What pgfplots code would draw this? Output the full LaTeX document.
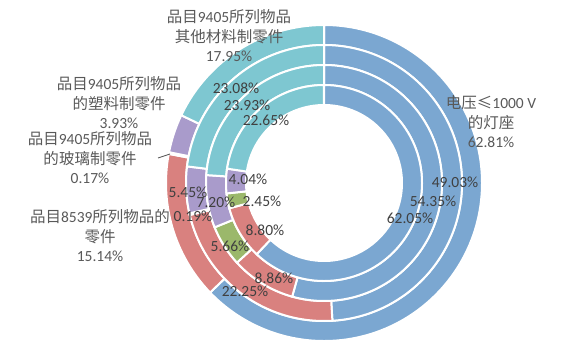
\documentclass[border=0pt]{standalone}
\usepackage{pgfplots}
\usepackage{pgfplotstable}
\pgfplotsset{compat=1.18}
\usepackage{fontspec}
\setmainfont{Carlito}
\newfontfamily\cjk{Noto Sans CJK SC}
\definecolor{cblue}{HTML}{7BA7D1}
\definecolor{cred}{HTML}{D9817F}
\definecolor{cgreen}{HTML}{9BB86B}
\definecolor{cpurple}{HTML}{A99BCB}
\definecolor{cteal}{HTML}{7EC7D1}
\definecolor{ctext}{HTML}{404040}
\definecolor{clabel}{HTML}{595959}

\pgfplotstableread{
name   r1    r2    r3    r4
blue   62.81 49.03 54.35 62.05
red    15.14 22.25 8.86  8.80
green  0.17  0.19  5.66  2.45
purple 3.93  5.45  7.20  4.04
teal   17.95 23.08 23.93 22.65
}\donutdata

\newcommand\drawring[3]{%
  \def\cum{0}%
  \pgfplotsforeachungrouped \i in {0,...,4}{%
    \pgfplotstablegetelem{\i}{#1}\of\donutdata
    \let\val\pgfplotsretval
    \pgfplotstablegetelem{\i}{name}\of\donutdata
    \let\col\pgfplotsretval
    \pgfmathsetmacro\sa{90-3.6*\cum}%
    \pgfmathsetmacro\cum{\cum+\val}%
    \pgfmathsetmacro\ea{90-3.6*\cum}%
    \pgfmathsetmacro\xO{#3*cos(\sa)}%
    \pgfmathsetmacro\yO{#3*sin(\sa)}%
    \pgfmathsetmacro\xI{#2*cos(\ea)}%
    \pgfmathsetmacro\yI{#2*sin(\ea)}%
    \edef\temp{\noexpand\fill[fill=c\col, draw=white, line width=2bp]
      (axis cs:\xO,\yO) arc[start angle=\sa, end angle=\ea, radius=#3bp]
      -- (axis cs:\xI,\yI) arc[start angle=\ea, end angle=\sa, radius=#2bp] -- cycle;}%
    \temp
  }%
}

\begin{document}
\begin{tikzpicture}[
  lbl/.style={align=center, text=clabel, font=\fontsize{15.5bp}{19.5bp}\selectfont, inner sep=0pt},
  pct/.style={text=ctext, font=\fontsize{15.5bp}{19.5bp}\selectfont, inner sep=0pt}]
\begin{axis}[hide axis, x=1bp, y=1bp, xmin=-324, xmax=238, ymin=-176, ymax=183, clip=false]
\path (axis cs:-324,-176) rectangle (axis cs:238,183);
\drawring{r1}{138}{158}
\drawring{r2}{118}{138}
\drawring{r3}{98}{118}
\drawring{r4}{78}{98}
% outer labels
\node[lbl] at (axis cs:-95,147) {{\cjk 品目}9405{\cjk 所列物品}\\{\cjk 其他材料制零件}\\17.95\%};
\node[lbl] at (axis cs:-205,80) {{\cjk 品目}9405{\cjk 所列物品}\\{\cjk 的塑料制零件}\\3.93\%};
\node[lbl] at (axis cs:-234,25) {{\cjk 品目}9405{\cjk 所列物品}\\{\cjk 的玻璃制零件}\\0.17\%};
\node[lbl] at (axis cs:-224,-53) {{\cjk 品目}8539{\cjk 所列物品的}\\{\cjk 零件}\\15.14\%};
\node[lbl] at (axis cs:167,61) {{\cjk 电压≤}1000 V\\{\cjk 的灯座}\\62.81\%};
\draw[clabel, line width=0.8bp] (axis cs:-166,25) -- (axis cs:-154,29);
% inner labels
\node[pct] at (axis cs:-88,95) {23.08\%};
\node[pct] at (axis cs:-77,78) {23.93\%};
\node[pct] at (axis cs:-58,63) {22.65\%};
\node[pct] at (axis cs:131,1) {49.03\%};
\node[pct] at (axis cs:109,-18) {54.35\%};
\node[pct] at (axis cs:86,-35) {62.05\%};
\node[pct] at (axis cs:-76,4) {4.04\%};
\node[pct] at (axis cs:-62,-18) {2.45\%};
\node[pct] at (axis cs:-59,-47) {8.80\%};
\node[pct] at (axis cs:-94,-63) {5.66\%};
\node[pct] at (axis cs:-108,-19) {7.20\%};
\node[pct] at (axis cs:-136,-9) {5.45\%};
\node[pct] at (axis cs:-131,-33) {0.19\%};
\node[pct] at (axis cs:-50,-95) {8.86\%};
\node[pct] at (axis cs:-79,-108) {22.25\%};
\end{axis}
\end{tikzpicture}
\end{document}
